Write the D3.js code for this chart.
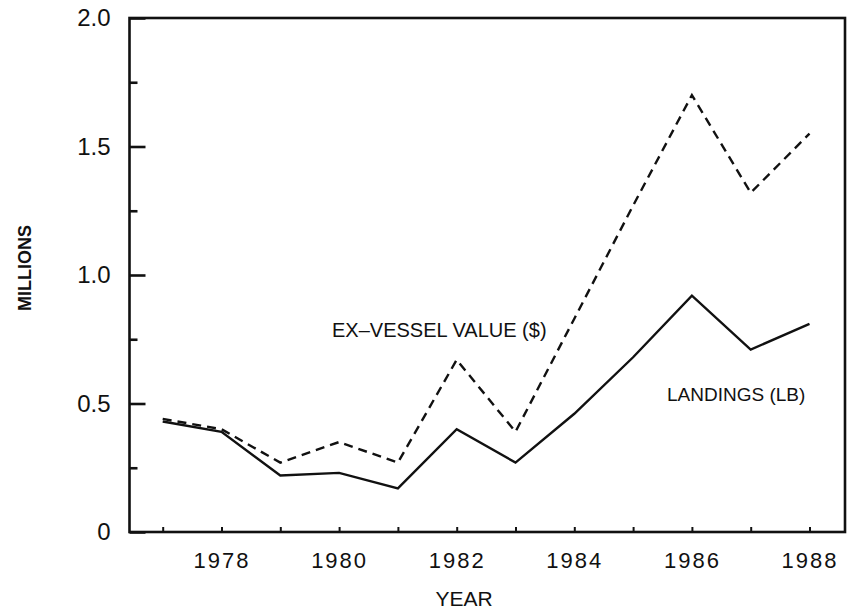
<!DOCTYPE html>
<meta charset="utf-8">
<style>
body { margin: 0; background: #fff; }
text { font-family: "Liberation Sans", Arial, sans-serif; fill: #111; }
.tick text { font-size: 22px; }
</style>
<svg width="849" height="615"></svg>
<script src="https://d3js.org/d3.v7.min.js"></script>
<script>

var years    = [1977, 1978, 1979, 1980, 1981, 1982, 1983, 1984, 1985, 1986, 1987, 1988];
var landings = [0.43, 0.39, 0.22, 0.23, 0.17, 0.40, 0.27, 0.46, 0.68, 0.92, 0.71, 0.81];
var exValue  = [0.44, 0.40, 0.27, 0.35, 0.27, 0.67, 0.39, 0.83, 1.27, 1.70, 1.32, 1.55];
var yTicks   = [0, 0.5, 1.0, 1.5, 2.0];
var yMinor   = [0.25, 0.75, 1.25, 1.75];
var xLabels  = [1978, 1980, 1982, 1984, 1986, 1988];

var svg = d3.select("svg"),
    plotLeft = 129.5, plotRight = 845, plotTop = 18, plotBottom = 532;

var x = d3.scaleLinear().domain([1977, 1988]).range([162.7, 809.5]);
var y = d3.scaleLinear().domain([0, 2]).range([plotBottom, plotTop]);

// frame
svg.append("rect")
    .attr("x", plotLeft).attr("y", plotTop)
    .attr("width", plotRight - plotLeft).attr("height", plotBottom - plotTop)
    .attr("fill", "none").attr("stroke", "#111").attr("stroke-width", 2.6);

// y axis, ticks point inward
var yAxis = svg.append("g")
    .attr("transform", "translate(" + plotLeft + ",0)")
    .call(d3.axisLeft(y).tickValues(yTicks).tickSize(-16).tickPadding(19)
      .tickFormat(function(d) { return d === 0 ? "0" : d.toFixed(1); }));
yAxis.select(".domain").remove();
yAxis.selectAll("line").attr("stroke", "#111").attr("stroke-width", 2.6);
yAxis.selectAll("text").style("font-size", "24px");

var yAxisMinor = svg.append("g")
    .attr("transform", "translate(" + plotLeft + ",0)")
    .call(d3.axisLeft(y).tickValues(yMinor).tickSize(-8).tickFormat(""));
yAxisMinor.select(".domain").remove();
yAxisMinor.selectAll("line").attr("stroke", "#111").attr("stroke-width", 2.6);

// x axis, every year ticked, even years labelled
var xAxis = svg.append("g")
    .attr("transform", "translate(0," + plotBottom + ")")
    .call(d3.axisBottom(x).tickValues(years).tickSize(-5).tickPadding(20)
      .tickFormat(function(d) { return xLabels.indexOf(d) >= 0 ? d : ""; }));
xAxis.select(".domain").remove();
xAxis.selectAll("line").attr("stroke", "#111").attr("stroke-width", 2);
xAxis.selectAll("text").style("letter-spacing", "2px");

// axis titles
svg.append("text")
    .attr("x", 464).attr("y", 606)
    .attr("text-anchor", "middle")
    .style("font-size", "21px")
    .text("YEAR");

svg.append("text")
    .attr("transform", "translate(31,268) rotate(-90)")
    .attr("text-anchor", "middle")
    .style("font-size", "18px").style("font-weight", "bold")
    .text("MILLIONS");

// lines
var line = d3.line()
    .x(function(d, i) { return x(years[i]); })
    .y(function(d) { return y(d); });

svg.append("path")
    .datum(exValue)
    .attr("d", line)
    .attr("fill", "none").attr("stroke", "#111")
    .attr("stroke-width", 2.4).attr("stroke-dasharray", "9,6");

svg.append("path")
    .datum(landings)
    .attr("d", line)
    .attr("fill", "none").attr("stroke", "#111")
    .attr("stroke-width", 2.4);

// labels on the lines
svg.append("text")
    .attr("x", 332).attr("y", 337)
    .style("font-size", "20px")
    .text("EX–VESSEL VALUE ($)");

svg.append("text")
    .attr("x", 667).attr("y", 401)
    .style("font-size", "19px")
    .text("LANDINGS (LB)");

</script>
